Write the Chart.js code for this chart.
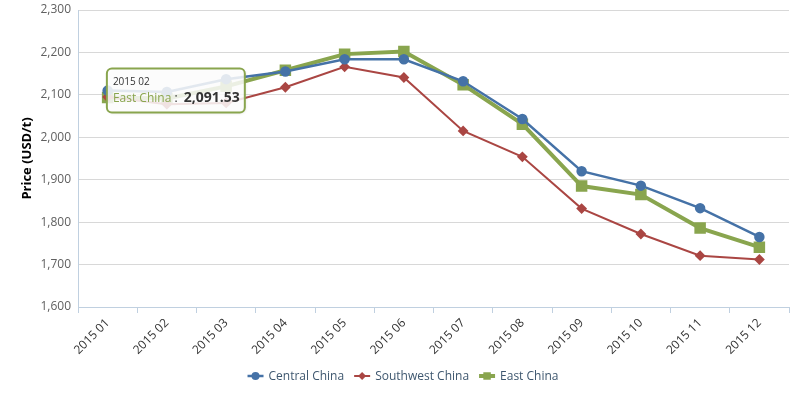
<!DOCTYPE html>
<html>
<head>
<meta charset="utf-8">
<script src="https://cdn.jsdelivr.net/npm/chart.js@4"></script>
<style>
  html, body { margin: 0; padding: 0; background: #fff; }
  #wrap { width: 806px; height: 396px; }
</style>
</head>
<body>
<div id="wrap"><canvas id="priceChart"></canvas></div>
<script>
// Data
const months = ['2015 01', '2015 02', '2015 03', '2015 04', '2015 05', '2015 06',
                '2015 07', '2015 08', '2015 09', '2015 10', '2015 11', '2015 12'];
const centralChina = [2110, 2107, 2137, 2155, 2184, 2184, 2132, 2043, 1920, 1886, 1833, 1765];
const southwestChina = [2095, 2078, 2081, 2118, 2166, 2141, 2015, 1954, 1832, 1772, 1721, 1712];
const eastChina = [2094, 2091.53, 2120, 2158, 2196, 2202, 2124, 2031, 1885, 1865, 1786, 1741];
const yTicks = [1600, 1700, 1800, 1900, 2000, 2100, 2200, 2300];

// tooltip shown in the picture: East China, 2015 02
const tipSeries = 2;
const tipIndex = 1;

const FONT = '"Open Sans", "Noto Sans", sans-serif';
const fmt = v => v.toLocaleString('en-US');

// Legend drawn like highcharts: line + marker
const legendPlugin = {
    id: 'hcLegend',
    afterDraw(chart) {
        const ctx = chart.ctx;
        ctx.save();
        ctx.font = '12px ' + FONT;
        const items = chart.data.datasets.map(ds => ({ ds, w: 16 + 5 + ctx.measureText(ds.label).width }));
        const gap = 10;
        const total = items.reduce((s, it) => s + it.w, 0) + gap * (items.length - 1);
        let x = (chart.width - total) / 2;
        const y = 376;
        items.forEach(it => {
            const ds = it.ds;
            ctx.strokeStyle = ds.borderColor;
            ctx.lineWidth = ds.borderWidth;
            ctx.beginPath();
            ctx.moveTo(x, y);
            ctx.lineTo(x + 16, y);
            ctx.stroke();
            ctx.fillStyle = ds.backgroundColor;
            ctx.strokeStyle = ds.backgroundColor;
            Chart.helpers.drawPoint(ctx, {
                pointStyle: ds.pointStyle, radius: ds.pointRadius, borderWidth: 0, rotation: 0
            }, x + 8, y);
            ctx.fillStyle = '#3E576F';
            ctx.textBaseline = 'middle';
            ctx.textAlign = 'left';
            ctx.fillText(ds.label, x + 21, y + 0.5);
            x += it.w + gap;
        });
        ctx.restore();
    }
};

// Static tooltip box
const tipPlugin = {
    id: 'hcTip',
    afterDraw(chart) {
        const ds = chart.data.datasets[tipSeries];
        const pt = chart.getDatasetMeta(tipSeries).data[tipIndex];
        if (!pt) return;
        const ctx = chart.ctx;
        ctx.save();
        const title = months[tipIndex];
        const name = ds.label;
        const value = ds.data[tipIndex].toLocaleString('en-US', { minimumFractionDigits: 2, maximumFractionDigits: 2 });
        ctx.font = '12px ' + FONT;
        const nameW = ctx.measureText(name).width;
        const sepW = ctx.measureText(' :  ').width;
        ctx.font = 'bold 14px ' + FONT;
        const valW = ctx.measureText(value).width;
        const w = 6 + nameW + sepW + valW + 5;
        const h = 44;
        const bx = pt.x - 60, by = pt.y - 30, r = 5;

        ctx.beginPath();
        ctx.moveTo(bx + r, by);
        ctx.lineTo(bx + w - r, by);
        ctx.arcTo(bx + w, by, bx + w, by + r, r);
        ctx.lineTo(bx + w, by + h - r);
        ctx.arcTo(bx + w, by + h, bx + w - r, by + h, r);
        ctx.lineTo(bx + r, by + h);
        ctx.arcTo(bx, by + h, bx, by + h - r, r);
        ctx.lineTo(bx, by + r);
        ctx.arcTo(bx, by, bx + r, by, r);
        ctx.closePath();
        ctx.shadowColor = 'rgba(0,0,0,0.12)';
        ctx.shadowOffsetX = 1;
        ctx.shadowOffsetY = 1;
        ctx.shadowBlur = 3;
        ctx.fillStyle = 'rgba(255,255,255,0.85)';
        ctx.fill();
        ctx.shadowColor = 'transparent';
        ctx.strokeStyle = ds.borderColor;
        ctx.lineWidth = 2;
        ctx.stroke();

        ctx.textBaseline = 'alphabetic';
        ctx.textAlign = 'left';
        ctx.font = '10px ' + FONT;
        ctx.fillStyle = '#333333';
        ctx.fillText(title, bx + 6, by + 17);
        ctx.font = '12px ' + FONT;
        ctx.fillStyle = ds.borderColor;
        ctx.fillText(name, bx + 6, by + 34);
        ctx.fillStyle = '#333333';
        ctx.fillText(' : ', bx + 6 + nameW, by + 34);
        ctx.font = 'bold 14px ' + FONT;
        ctx.fillText(value, bx + 6 + nameW + sepW, by + 34);
        ctx.restore();
    }
};

const ctx = document.getElementById('priceChart').getContext('2d');
new Chart(ctx, {
    type: 'line',
    data: {
        labels: months,
        datasets: [
            { label: 'Central China', data: centralChina, borderColor: '#4572A7', backgroundColor: '#4572A7',
              borderWidth: 2.5, pointStyle: 'circle', pointRadius: 4 },
            { label: 'Southwest China', data: southwestChina, borderColor: '#AA4643', backgroundColor: '#AA4643',
              borderWidth: 2, pointStyle: 'rectRot', pointRadius: 4 },
            { label: 'East China', data: eastChina, borderColor: '#89A54E', backgroundColor: '#89A54E',
              borderWidth: 4, pointStyle: 'rect', pointRadius: 5.3 }
        ]
    },
    options: {
        responsive: true,
        maintainAspectRatio: false,
        animation: false,
        events: [],
        layout: { padding: { top: 10, right: 17, bottom: 39, left: 0 } },
        elements: {
            line: { tension: 0 },
            point: { borderWidth: 0 }
        },
        plugins: {
            legend: { display: false },
            tooltip: { enabled: false }
        },
        scales: {
            x: {
                offset: true,
                grid: { offset: true, drawOnChartArea: false, drawTicks: true, tickLength: 6, color: '#C0D0E0' },
                border: { color: '#C0D0E0' },
                ticks: { minRotation: 45, maxRotation: 45, padding: 3, color: '#333333', font: { family: FONT, size: 12 } },
                afterFit: s => { s.height = 50; s.paddingLeft = 0; s.paddingRight = 0; }
            },
            y: {
                min: 1600,
                max: 2300,
                afterBuildTicks: s => { s.ticks = yTicks.map(v => ({ value: v })); },
                grid: { color: '#D8D8D8', drawTicks: false },
                border: { color: '#C0D0E0' },
                ticks: { padding: 7, color: '#606060', font: { family: FONT, size: 12 }, callback: v => fmt(v) },
                title: { display: true, text: 'Price (USD/t)', color: '#000000',
                         font: { family: FONT, size: 13, weight: 'bold' }, padding: { top: 19, bottom: 0 } },
                afterFit: s => { s.width = 78; s.paddingTop = 0; s.paddingBottom = 0; }
            }
        }
    },
    plugins: [legendPlugin, tipPlugin]
});
</script>
</body>
</html>
